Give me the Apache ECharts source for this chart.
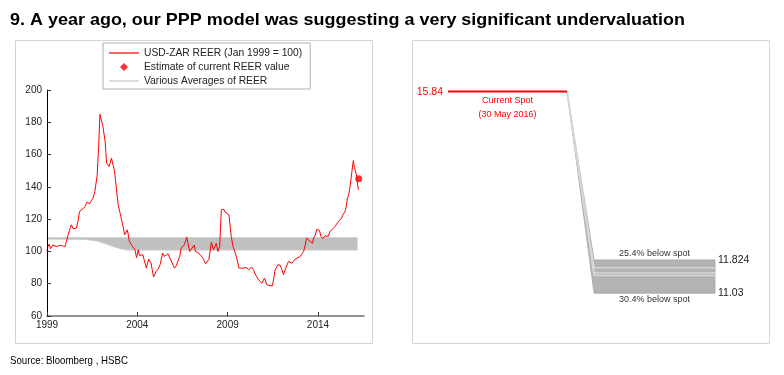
<!DOCTYPE html>
<html>
<head>
<meta charset="utf-8">
<script src="https://cdn.jsdelivr.net/npm/echarts@6/dist/echarts.min.js"></script>
<style>
html,body{margin:0;padding:0;background:#fff;}
#chart{width:784px;height:375px;}
</style>
</head>
<body>
<div id="chart"></div>
<script>
// ---------- Left panel data ----------
var reerYears = [1999.00,1999.05,1999.12,1999.2,1999.33,1999.42,1999.5,1999.6,1999.7,1999.85,2000.0,2000.08,2000.17,2000.27,2000.35,2000.45,2000.54,2000.63,2000.72,2000.8,2000.9,2001.0,2001.1,2001.22,2001.35,2001.45,2001.55,2001.65,2001.78,2001.86,2001.93,2002.0,2002.08,2002.15,2002.22,2002.3,2002.37,2002.44,2002.5,2002.57,2002.67,2002.75,2002.82,2002.94,2003.04,2003.13,2003.22,2003.3,2003.38,2003.45,2003.56,2003.65,2003.74,2003.87,2003.96,2004.05,2004.12,2004.2,2004.3,2004.4,2004.5,2004.63,2004.76,2004.9,2005.04,2005.15,2005.26,2005.4,2005.5,2005.6,2005.7,2005.78,2005.93,2006.06,2006.15,2006.24,2006.35,2006.43,2006.52,2006.6,2006.74,2006.82,2006.9,2007.0,2007.07,2007.15,2007.22,2007.4,2007.5,2007.63,2007.78,2007.87,2007.96,2008.1,2008.22,2008.3,2008.37,2008.46,2008.56,2008.65,2008.72,2008.78,2008.85,2008.93,2009.07,2009.2,2009.3,2009.37,2009.5,2009.63,2009.75,2009.87,2010.06,2010.15,2010.25,2010.33,2010.42,2010.5,2010.6,2010.7,2010.8,2010.9,2011.04,2011.1,2011.17,2011.27,2011.35,2011.48,2011.55,2011.63,2011.7,2011.78,2011.9,2012.0,2012.09,2012.15,2012.22,2012.37,2012.45,2012.56,2012.65,2012.74,2012.85,2013.02,2013.12,2013.2,2013.28,2013.37,2013.44,2013.57,2013.7,2013.76,2013.85,2013.94,2014.0,2014.08,2014.17,2014.27,2014.39,2014.5,2014.57,2014.66,2014.76,2014.94,2015.04,2015.13,2015.22,2015.3,2015.4,2015.5,2015.57,2015.63,2015.7,2015.78,2015.87,2015.96,2016.02,2016.06,2016.15,2016.2,2016.24];
var reerValues = [100,103,104.5,101.7,104,103.2,103,104,103.7,103.5,103,104,110.3,114,116.5,114,113.4,114.5,119,124.8,125.8,126.5,127.8,130.6,129.5,131.5,133,137.1,147.4,165,185,181.4,178.5,177.3,168,154.7,154,152.6,155,157.8,156.7,149,141.2,128.9,124,119.6,115,110.3,110,113.4,106.2,105,103,101,96,101,97.5,96.9,98,99,89.7,95.3,92.8,84.1,87.6,89,91.7,99,97,96,98.5,98,92.8,89.7,91,90.7,97,102.1,101,104.1,108.9,104,100,101.5,102,104,100,99,97.5,96,92.4,93,95,105.6,101,103,105.1,100,103,125.8,126.8,126.2,124.5,123.3,122.7,109.3,103,101,96,89.7,89.6,89.7,90,88.6,87.5,90.3,89,86.6,84.5,82.5,81.5,80.4,83.5,82.5,79.4,80,78.8,78.8,83,88.6,90,91.7,91.5,89,85.6,86.5,89.7,93.8,93,92.8,93.5,95.3,94.5,96.9,98.5,100,103,108.3,107.6,106.2,105.1,108.3,110,113.8,114.4,113,109.3,108,109.7,110.5,109.3,112,113.4,115.4,116.5,118.5,119,120.6,123,124.7,128,133,135,140.2,148.5,156.3,152,150.5,146.4,141,138.1];
var estimateYear = 2016.26;
var estimateValue = 145;
var avgYears = [1999.0, 2001.2, 2001.8, 2002.3, 2002.8, 2003.2, 2003.5, 2016.18];
var avgLow   = [107.6, 107.3, 106.3, 104.5, 102.5, 101.2, 100.8, 100.8];
var avgHigh  = [108.6, 108.6, 108.6, 108.6, 108.6, 108.6, 108.6, 108.6];
var xTickYears = [1999, 2004, 2009, 2014];

// ---------- Right panel data ----------
var spotValue = 15.84;
var fairLow = 11.03;
var fairHigh = 11.824;
var fairInner = [11.64, 11.51, 11.45];
var stageX = [0, 44.6, 54.7, 100];   // schematic stages: spot start, spot end, fan end, band end
var spotLabel = ['Current Spot', '(30 May 2016)'];

var titleText = '9. A year ago, our PPP model was suggesting a very significant undervaluation';
var sourceText = 'Source: Bloomberg , HSBC';

// ---------- build ----------
function zip(a, b) { return a.map(function (v, i) { return [v, b[i]]; }); }
var reerData = zip(reerYears, reerValues);

var pctHigh = Math.round((1 - fairHigh / spotValue) * 1000) / 10;
var pctLow = Math.round((1 - fairLow / spotValue) * 1000) / 10;

var FONT = '"Liberation Sans", Arial, sans-serif';

function textScale(text, font, targetW) {
  var c = document.createElement('canvas').getContext('2d');
  c.font = font;
  var w = c.measureText(text).width;
  return targetW / w;
}
var titleScale = textScale(titleText, 'bold 17px "Liberation Sans"', 675);
var sourceScale = textScale(sourceText, '11px "Liberation Sans"', 118);

var LINE_ICON = 'path://M0,0H30V1.2H0Z';
var DOT_ICON = 'path://M4,0L8,4L4,8L0,4Z';

// polygon between an upper and a lower path, drawn through the axis scales
function bandItem(xs, hi, lo, fill, stroke) {
  return function (params, api) {
    var pts = [];
    for (var i = 0; i < xs.length; i++) pts.push(api.coord([xs[i], hi[i]]));
    for (var j = xs.length - 1; j >= 0; j--) pts.push(api.coord([xs[j], lo[j]]));
    return { type: 'polygon', shape: { points: pts }, style: { fill: fill, stroke: stroke, lineWidth: 0.8 } };
  };
}

var fanX = stageX.slice(1);
var fanHi = [spotValue, fairHigh, fairHigh];
var fanLo = [spotValue, fairLow, fairLow];

var series = [
  { name: 'Various Averages of REER', type: 'custom', xAxisIndex: 0, yAxisIndex: 0,
    data: [[avgYears[0], avgHigh[0]]],
    renderItem: bandItem(avgYears, avgHigh, avgLow, '#c0c0c0', '#d0d0d0'),
    itemStyle: { color: '#c8c8c8' }, silent: true, z: 1 },
  { name: 'USD-ZAR REER (Jan 1999 = 100)', type: 'line', xAxisIndex: 0, yAxisIndex: 0, data: reerData,
    symbol: 'none', lineStyle: { width: 1, color: '#ff0000' }, itemStyle: { color: '#ff0000' }, z: 3 },
  { name: 'Estimate of current REER value', type: 'scatter', xAxisIndex: 0, yAxisIndex: 0,
    data: [[estimateYear, estimateValue]], symbol: 'circle', symbolSize: 7,
    itemStyle: { color: '#ff0000' }, z: 4 },

  // right panel
  { name: 'fan', type: 'custom', xAxisIndex: 1, yAxisIndex: 1,
    data: [[fanX[0], spotValue]],
    renderItem: bandItem(fanX, fanHi, fanLo, '#b3b3b3', '#a4a4a4'),
    silent: true, z: 1 }
];
fairInner.forEach(function (v, i) {
  series.push({ name: 'inner' + i, type: 'line', xAxisIndex: 1, yAxisIndex: 1,
    data: [[stageX[1], spotValue], [stageX[2], v], [stageX[3], v]],
    symbol: 'none', lineStyle: { width: 1.5, color: '#d6d6d6' }, silent: true, z: 2 });
});
series.push({ name: 'spot', type: 'line', xAxisIndex: 1, yAxisIndex: 1,
  data: [[stageX[0], spotValue], [stageX[1], spotValue]],
  symbol: 'none', lineStyle: { width: 2, color: '#ff0000' }, silent: true, z: 5,
  markPoint: {
    symbol: 'circle', symbolSize: 0, silent: true,
    data: [
      { coord: [stageX[0], spotValue],
        label: { show: true, position: 'left', distance: 5, formatter: spotValue.toFixed(2),
                 color: '#ff0000', fontSize: 10.5, fontFamily: FONT } },
      { coord: [(stageX[0] + stageX[1]) / 2, spotValue],
        label: { show: true, position: 'bottom', distance: 2, formatter: spotLabel.join('\n'),
                 color: '#ff0000', fontSize: 9, lineHeight: 14, fontFamily: FONT } },
      { coord: [(stageX[2] + stageX[3]) / 2, fairHigh],
        label: { show: true, position: 'top', distance: 2, formatter: pctHigh.toFixed(1) + '% below spot',
                 color: '#333', fontSize: 9, fontFamily: FONT } },
      { coord: [(stageX[2] + stageX[3]) / 2, fairLow],
        label: { show: true, position: 'bottom', distance: 2, formatter: pctLow.toFixed(1) + '% below spot',
                 color: '#333', fontSize: 9, fontFamily: FONT } },
      { coord: [stageX[3], fairHigh],
        label: { show: true, position: 'right', distance: 3, formatter: String(fairHigh),
                 color: '#222', fontSize: 10.5, fontFamily: FONT } },
      { coord: [stageX[3], fairLow],
        label: { show: true, position: 'right', distance: 3, formatter: String(fairLow),
                 color: '#222', fontSize: 10.5, fontFamily: FONT } }
    ]
  }
});

var option = {
  animation: false,
  backgroundColor: '#fff',
  textStyle: { fontFamily: FONT },
  graphic: [
    { type: 'rect', shape: { x: 15.5, y: 40.5, width: 357, height: 303 }, style: { fill: 'none', stroke: '#d4d4d4', lineWidth: 1 }, z: -1 },
    { type: 'rect', shape: { x: 412.5, y: 40.5, width: 357, height: 303 }, style: { fill: 'none', stroke: '#d4d4d4', lineWidth: 1 }, z: -1 },
    { type: 'text', x: 10, y: 20, scaleX: titleScale,
      style: { text: titleText, font: 'bold 17px "Liberation Sans", Arial, sans-serif', fill: '#000',
               textAlign: 'left', textVerticalAlign: 'middle', verticalAlign: 'middle' } },
    { type: 'text', x: 10, y: 361, scaleX: sourceScale,
      style: { text: sourceText, font: '11px "Liberation Sans", Arial, sans-serif', fill: '#000',
               textAlign: 'left', textVerticalAlign: 'middle', verticalAlign: 'middle' } }
  ],
  legend: {
    left: 103, top: 43, orient: 'vertical',
    data: [
      { name: 'USD-ZAR REER (Jan 1999 = 100)', icon: LINE_ICON },
      { name: 'Estimate of current REER value', icon: DOT_ICON },
      { name: 'Various Averages of REER', icon: LINE_ICON }
    ],
    symbolKeepAspect: true,
    itemWidth: 30, itemHeight: 8, itemGap: 4,
    padding: [5, 8, 3, 6],
    borderColor: '#b0b0b0', borderWidth: 1, backgroundColor: '#fff',
    textStyle: { fontSize: 10.3, color: '#222', fontFamily: FONT },
    selectedMode: false
  },
  grid: [
    { left: 47, top: 90, right: 420, bottom: 59 },
    { left: 448, top: 43, right: 69, bottom: 38.6 }
  ],
  xAxis: [
    { type: 'value', gridIndex: 0, min: 1999, max: 2016.55, z: 10,
      axisLine: { show: true, lineStyle: { color: '#707070', width: 1.5 } },
      axisTick: { show: true, inside: true, length: 4, customValues: xTickYears, lineStyle: { color: '#333' } },
      axisLabel: { customValues: xTickYears, color: '#222', fontSize: 10, margin: 4, formatter: function (v) { return String(v); } },
      splitLine: { show: false } },
    { type: 'value', gridIndex: 1, min: 0, max: 100, show: false }
  ],
  yAxis: [
    { type: 'value', gridIndex: 0, min: 60, max: 200, interval: 20, z: 10,
      axisLine: { show: true, lineStyle: { color: '#000', width: 1 } },
      axisTick: { show: true, inside: true, length: 4, lineStyle: { color: '#333' } },
      axisLabel: { color: '#222', fontSize: 10, margin: 5 },
      splitLine: { show: false } },
    { type: 'value', gridIndex: 1, min: 10, max: 17, show: false }
  ],
  series: series
};

var chart = echarts.init(document.getElementById('chart'), null, { renderer: 'canvas' });
chart.setOption(option);
</script>
</body>
</html>
